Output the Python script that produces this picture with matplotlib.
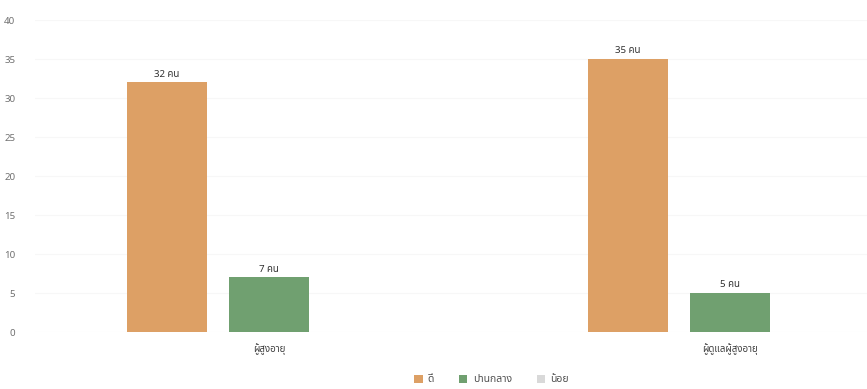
import matplotlib
matplotlib.use("Agg")
import matplotlib.pyplot as plt
import numpy as np

plt.rcParams['font.family'] = ['Noto Sans Thai', 'DejaVu Sans']

categories = ['ผู้สูงอายุ', 'ผู้ดูแลผู้สูงอายุ']
series_names = ['ดี', 'ปานกลาง', 'น้อย']
good = [32, 35]
medium = [7, 5]
low = [0, 0]
bar_labels = [['32 คน', '35 คน'], ['7 คน', '5 คน'], [None, None]]

colors = ['#DDA065', '#70A070', '#D9D9D9']

fig = plt.figure(figsize=(8.67, 3.89), dpi=100)
ax = fig.add_axes([0.04, 0.1465, 0.96, 0.802])

x = np.arange(len(categories))
w = 0.1735
step = 0.221
for i, (vals, name) in enumerate(zip([good, medium, low], series_names)):
    bars = ax.bar(x + (i - 1) * step, vals, w, color=colors[i], label=name, zorder=2)
    for b, lab in zip(bars, bar_labels[i]):
        if lab:
            ax.text(b.get_x() + b.get_width() / 2, b.get_height() + 0.5, lab,
                    ha='center', va='bottom', fontsize=7, color='#303030',
                    fontweight='bold')

ax.set_ylim(0, 40)
ax.set_yticks(range(0, 41, 5))
ax.set_xlim(-0.508, 1.297)
ax.set_xticks(x)
ax.set_xticklabels(categories, fontweight='bold')
ax.tick_params(axis='both', length=0, labelsize=7, colors='#595959')
ax.tick_params(axis='y', pad=14, colors='#707070')
ax.tick_params(axis='x', pad=8, colors='#404040')
ax.grid(axis='y', color='#f7f7f7', linewidth=0.8, zorder=0)
for s in ax.spines.values():
    s.set_visible(False)

fig.legend(loc='lower center', bbox_to_anchor=(0.567, -0.015), ncol=3, frameon=False,
           fontsize=7.5, handlelength=0.8, handleheight=0.8, columnspacing=2.4,
           handletextpad=0.5, labelcolor='#505050')

fig.savefig('out.png')
